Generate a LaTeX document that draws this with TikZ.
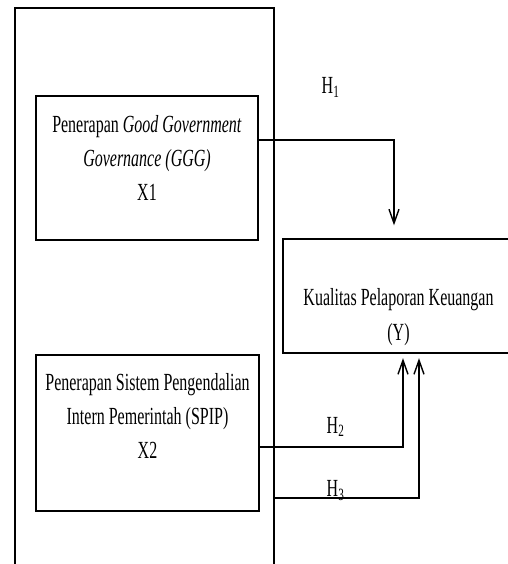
\documentclass[tikz,border=0pt]{standalone}
\usepackage{fontspec}
\setmainfont{Liberation Serif}[FakeStretch=0.65]
\usepackage{tikz}
\usetikzlibrary{arrows.meta}

\begin{document}
\begin{tikzpicture}[line width=0.8pt, font=\fontsize{14}{19.6}\selectfont,
	varbox/.style={shape=rectangle, draw, inner sep=0},
	hyparrow/.style={-{Straight Barb[length=0.28cm, width=0.2cm]}}]
	% Frame, boxes, wires and labels:
	\useasboundingbox (0, 0) rectangle (10.16, 11.28);
	\draw (0.3, 0) |- (5.48, 11.12) -- (5.48, 0);
	\draw node[varbox, minimum width=4.44cm, minimum height=2.88cm] (X1) at (2.94, 7.92) {} node[anchor=center, align=center] (T1) at ([yshift=0.2cm]X1.center){Penerapan \textit{Good Government}\\\textit{Governance (GGG)}\\X1};
	\draw node[varbox, minimum width=4.46cm, minimum height=3.12cm] (X2) at (2.95, 2.62) {} node[anchor=center, align=center] (T2) at ([yshift=0.34cm]X2.center){Penerapan Sistem Pengendalian\\Intern Pemerintah (SPIP)\\X2};
	\draw node[varbox, minimum width=4.54cm, minimum height=2.28cm] (Y) at (7.93, 5.36) {} node[anchor=center, align=center] (T3) at ([xshift=0.04cm, yshift=-0.42cm]Y.center){Kualitas Pelaporan Keuangan\\(Y)};
	\coordinate (H3s) at (5.48, 1.32);
	\draw[hyparrow] ([yshift=0.56cm]X1.east) -| ([xshift=-0.05cm, yshift=0.26cm]Y.north);
	\draw[hyparrow] ([yshift=-0.28cm]X2.east) -| ([xshift=0.13cm, yshift=-0.09cm]Y.south);
	\draw[hyparrow] (H3s) -| ([xshift=0.45cm, yshift=-0.09cm]Y.south);
	\node[anchor=base west, inner sep=0] (H1) at (6.42, 9.40) {H\textsubscript{1}};
	\node[anchor=base west, inner sep=0] (H2) at (6.52, 2.62) {H\textsubscript{2}};
	\node[anchor=base west, inner sep=0] (H3) at (6.52, 1.35) {H\textsubscript{3}};
\end{tikzpicture}
\end{document}
